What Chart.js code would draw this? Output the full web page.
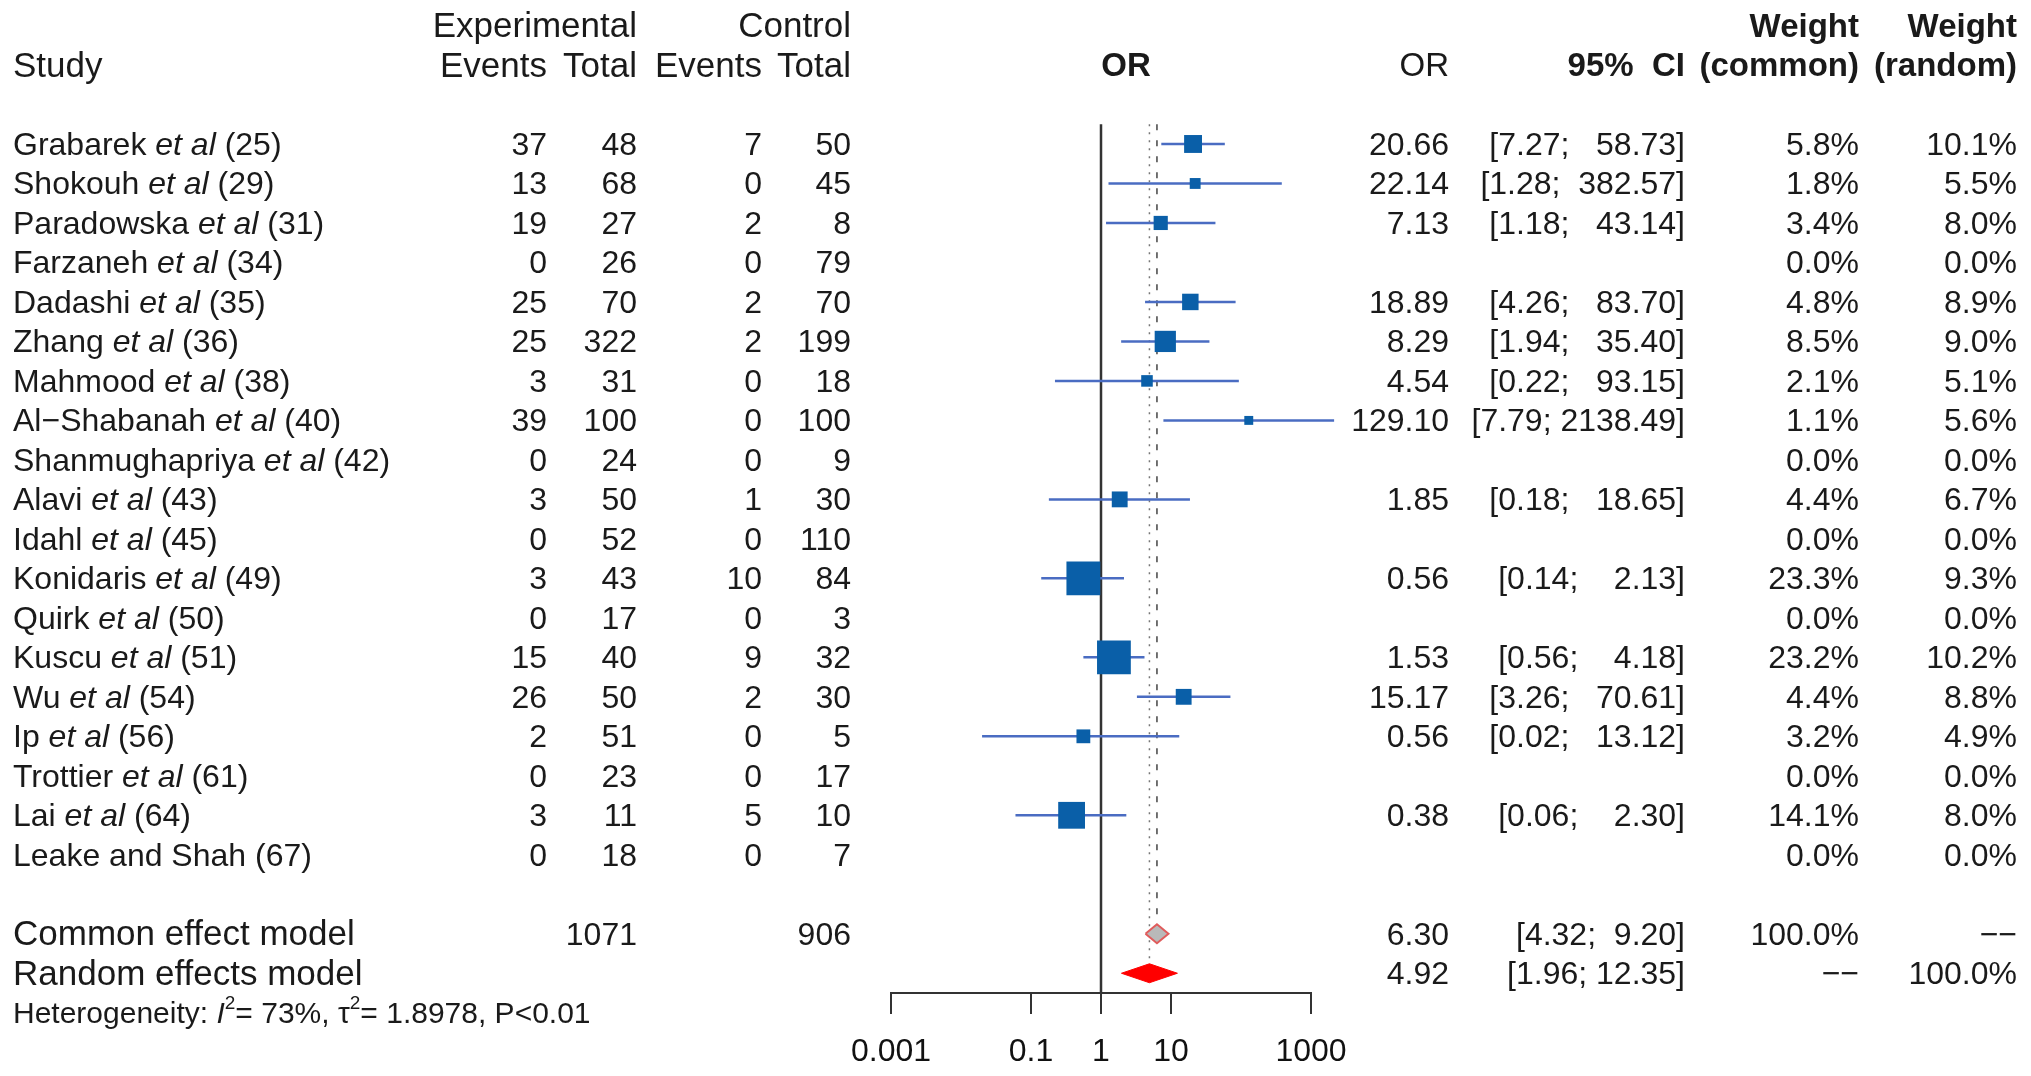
<!DOCTYPE html>
<html>
<head>
<meta charset="utf-8">
<title>Forest plot</title>
<script src="https://cdn.jsdelivr.net/npm/chart.js@4.4.1/dist/chart.umd.min.js"></script>
<style>
    html, body { margin: 0; padding: 0; background: #fff; }
    #wrap { width: 2031px; height: 1076px; position: relative; }
</style>
</head>
<body>
<div id="wrap"><canvas id="forestChart"></canvas></div>
<script>
// studies: "plain|italic|plain"
const studyLabels = [
    'Grabarek |et al| (25)', 'Shokouh |et al| (29)', 'Paradowska |et al| (31)', 'Farzaneh |et al| (34)',
    'Dadashi |et al| (35)', 'Zhang |et al| (36)', 'Mahmood |et al| (38)', 'Al\u2212Shabanah |et al| (40)',
    'Shanmughapriya |et al| (42)', 'Alavi |et al| (43)', 'Idahl |et al| (45)', 'Konidaris |et al| (49)',
    'Quirk |et al| (50)', 'Kuscu |et al| (51)', 'Wu |et al| (54)', 'Ip |et al| (56)',
    'Trottier |et al| (61)', 'Lai |et al| (64)', 'Leake and Shah (67)'
];
const expEvents = [37, 13, 19, 0, 25, 25, 3, 39, 0, 3, 0, 3, 0, 15, 26, 2, 0, 3, 0];
const expTotal = [48, 68, 27, 26, 70, 322, 31, 100, 24, 50, 52, 43, 17, 40, 50, 51, 23, 11, 18];
const ctrlEvents = [7, 0, 2, 0, 2, 2, 0, 0, 0, 1, 0, 10, 0, 9, 2, 0, 0, 5, 0];
const ctrlTotal = [50, 45, 8, 79, 70, 199, 18, 100, 9, 30, 110, 84, 3, 32, 30, 5, 17, 10, 7];
const oddsRatio = [20.66, 22.14, 7.13, null, 18.89, 8.29, 4.54, 129.10, null, 1.85, null, 0.56, null, 1.53, 15.17, 0.56, null, 0.38, null];
const ciLower = [7.27, 1.28, 1.18, null, 4.26, 1.94, 0.22, 7.79, null, 0.18, null, 0.14, null, 0.56, 3.26, 0.02, null, 0.06, null];
const ciUpper = [58.73, 382.57, 43.14, null, 83.70, 35.40, 93.15, 2138.49, null, 18.65, null, 2.13, null, 4.18, 70.61, 13.12, null, 2.30, null];
const weightCommon = [5.8, 1.8, 3.4, 0.0, 4.8, 8.5, 2.1, 1.1, 0.0, 4.4, 0.0, 23.3, 0.0, 23.2, 4.4, 3.2, 0.0, 14.1, 0.0];
const weightRandom = [10.1, 5.5, 8.0, 0.0, 8.9, 9.0, 5.1, 5.6, 0.0, 6.7, 0.0, 9.3, 0.0, 10.2, 8.8, 4.9, 0.0, 8.0, 0.0];

const summaryLabels = ['Common effect model', 'Random effects model'];
const summaryOR = [6.30, 4.92];
const summaryLower = [4.32, 1.96];
const summaryUpper = [9.20, 12.35];
const summaryWeightCommon = ['100.0%', '\u2212\u2212'];
const summaryWeightRandom = ['\u2212\u2212', '100.0%'];
const totalExp = 1071;
const totalCtrl = 906;
const hetI2 = '73%';
const hetTau2 = '1.8978';
const hetP = 'P<0.01';

const orTicks = [0.001, 0.1, 1, 10, 1000];
const orTickLabels = ['0.001', '0.1', '1', '10', '1000'];

// layout
const FONT = '"Liberation Sans", Arial, Helvetica, sans-serif';
const ROW_TOP = -3.646;      // y value at top of chart area
const ROW_AXIS = 21.5;       // y value at the axis line
const TEXT_SHIFT = 2;        // 'middle' baseline sits a bit above cap centre
const nStudies = studyLabels.length;
const rowCommon = nStudies + 1;
const rowRandom = nStudies + 2;
const rowHet = nStudies + 3;
const squareColor = '#0a5fa8';
const ciColor = '#4a6cc2';

function squareSide(w) {
    return 6.6 * Math.sqrt(w) + 2;
}

const datasets = [];

// squares (on top)
datasets.push({
    label: 'OR',
    data: oddsRatio.map((v, i) => v == null ? null : { x: v, y: i }).filter(Boolean),
    showLine: false,
    pointStyle: 'rect',
    pointRadius: ctx => ctx.raw ? squareSide(weightCommon[ctx.raw.y]) / Math.SQRT2 : 0,
    pointBackgroundColor: squareColor,
    pointBorderWidth: 0,
    order: 0
});

// confidence intervals
oddsRatio.forEach((v, i) => {
    if (v == null) return;
    datasets.push({
        label: 'CI ' + i,
        data: [{ x: ciLower[i], y: i }, { x: ciUpper[i], y: i }],
        borderColor: ciColor,
        borderWidth: 2.5,
        pointRadius: 0,
        clip: false,
        order: 1
    });
});

// summary diamonds
function diamond(k, row) {
    const h = 0.24;
    return [
        { x: summaryLower[k], y: row },
        { x: summaryOR[k], y: row - h },
        { x: summaryUpper[k], y: row },
        { x: summaryOR[k], y: row + h },
        { x: summaryLower[k], y: row }
    ];
}
datasets.push({
    label: summaryLabels[0],
    data: diamond(0, rowCommon),
    fill: 'shape',
    backgroundColor: '#b9b9b9',
    borderColor: '#e05c5c',
    borderWidth: 2,
    pointRadius: 0,
    tension: 0,
    order: 1
});
datasets.push({
    label: summaryLabels[1],
    data: diamond(1, rowRandom),
    fill: 'shape',
    backgroundColor: '#ff0000',
    borderColor: '#ff0000',
    borderWidth: 1,
    pointRadius: 0,
    tension: 0,
    order: 1
});

// reference lines
datasets.push({
    label: 'no effect',
    data: [{ x: 1, y: -0.5 }, { x: 1, y: ROW_AXIS }],
    borderColor: '#333',
    borderWidth: 2.5,
    pointRadius: 0,
    order: 3
});
datasets.push({
    label: 'common line',
    data: [{ x: summaryOR[0], y: -0.5 }, { x: summaryOR[0], y: rowCommon - 0.4 }],
    borderColor: '#444',
    borderWidth: 1.5,
    borderDash: [6, 10],
    pointRadius: 0,
    order: 3
});
datasets.push({
    label: 'random line',
    data: [{ x: summaryOR[1], y: -0.5 }, { x: summaryOR[1], y: rowRandom - 0.25 }],
    borderColor: '#777',
    borderWidth: 1.5,
    borderDash: [2, 6],
    pointRadius: 0,
    order: 3
});

// text columns
function drawRich(ctx, parts, x, y, size) {
    let cx = x;
    parts.forEach(p => {
        const fs = p.sup ? Math.round(size * 0.62) : size;
        ctx.font = (p.italic ? 'italic ' : '') + fs + 'px ' + FONT;
        ctx.textAlign = 'left';
        ctx.fillText(p.t, cx, p.sup ? y - size * 0.38 : y);
        cx += ctx.measureText(p.t).width;
    });
}

const tableText = {
    id: 'tableText',
    afterDraw(chart) {
        const ctx = chart.ctx;
        const ys = chart.scales.y;
        const py = r => ys.getPixelForValue(r) + TEXT_SHIFT;
        ctx.save();
        ctx.fillStyle = '#1a1a1a';
        ctx.textBaseline = 'middle';
        function put(str, x, row, align, font) {
            ctx.font = font;
            ctx.textAlign = align;
            ctx.fillText(str, x, py(row));
        }
        const head = '35px ' + FONT;
        const headBold = 'bold 33px ' + FONT;
        const body = '32px ' + FONT;

        // header
        put('Experimental', 637, -3, 'right', head);
        put('Control', 851, -3, 'right', head);
        put('Weight', 1859, -3, 'right', headBold);
        put('Weight', 2017, -3, 'right', headBold);
        put('Study', 13, -2, 'left', head);
        put('Events', 547, -2, 'right', head);
        put('Total', 637, -2, 'right', head);
        put('Events', 762, -2, 'right', head);
        put('Total', 851, -2, 'right', head);
        put('OR', 1126, -2, 'center', headBold);
        put('OR', 1449, -2, 'right', '33px ' + FONT);
        put('95%  CI', 1685, -2, 'right', headBold);
        put('(common)', 1859, -2, 'right', headBold);
        put('(random)', 2017, -2, 'right', headBold);

        // studies
        studyLabels.forEach((lab, i) => {
            const parts = lab.split('|').map((t, k) => ({ t: t, italic: k === 1 }));
            drawRich(ctx, parts, 13, py(i), 32);
            put(String(expEvents[i]), 547, i, 'right', body);
            put(String(expTotal[i]), 637, i, 'right', body);
            put(String(ctrlEvents[i]), 762, i, 'right', body);
            put(String(ctrlTotal[i]), 851, i, 'right', body);
            if (oddsRatio[i] != null) {
                put(oddsRatio[i].toFixed(2), 1449, i, 'right', body);
                put('[' + ciLower[i].toFixed(2) + '; ' + ciUpper[i].toFixed(2).padStart(7) + ']', 1685, i, 'right', body);
            }
            put(weightCommon[i].toFixed(1) + '%', 1859, i, 'right', body);
            put(weightRandom[i].toFixed(1) + '%', 2017, i, 'right', body);
        });

        // summaries
        [rowCommon, rowRandom].forEach((row, k) => {
            put(summaryLabels[k], 13, row, 'left', '35px ' + FONT);
            put(summaryOR[k].toFixed(2), 1449, row, 'right', body);
            put('[' + summaryLower[k].toFixed(2) + '; ' + summaryUpper[k].toFixed(2).padStart(5) + ']', 1685, row, 'right', body);
            put(summaryWeightCommon[k], 1859, row, 'right', body);
            put(summaryWeightRandom[k], 2017, row, 'right', body);
        });
        put(String(totalExp), 637, rowCommon, 'right', body);
        put(String(totalCtrl), 851, rowCommon, 'right', body);

        // heterogeneity
        drawRich(ctx, [
            { t: 'Heterogeneity: ' },
            { t: 'I', italic: true },
            { t: '2', sup: true },
            { t: '= ' + hetI2 + ', \u03c4' },
            { t: '2', sup: true },
            { t: '= ' + hetTau2 + ', ' + hetP }
        ], 13, py(rowHet), 30);
        ctx.restore();
    }
};

new Chart(document.getElementById('forestChart').getContext('2d'), {
    type: 'line',
    data: { datasets: datasets },
    options: {
        responsive: true,
        maintainAspectRatio: false,
        animation: false,
        events: [],
        layout: { autoPadding: false, padding: { left: 891, right: 720, top: 0, bottom: 4.6 } },
        plugins: {
            legend: { display: false },
            tooltip: { enabled: false }
        },
        scales: {
            x: {
                type: 'logarithmic',
                min: orTicks[0],
                max: orTicks[orTicks.length - 1],
                afterBuildTicks: function (scale) {
                    scale.ticks = orTicks.map(v => ({ value: v }));
                },
                afterFit: function (scale) {
                    scale.height = 78.4;
                },
                ticks: {
                    callback: (v, i) => orTickLabels[i],
                    autoSkip: false,
                    maxRotation: 0,
                    color: '#111',
                    padding: 19,
                    font: { family: FONT, size: 32 }
                },
                grid: {
                    drawOnChartArea: false,
                    drawTicks: true,
                    tickLength: 21,
                    color: '#333',
                    lineWidth: 2
                },
                border: { display: true, color: '#333', width: 2 }
            },
            y: {
                type: 'linear',
                reverse: true,
                min: ROW_TOP,
                max: ROW_AXIS,
                display: false
            }
        }
    },
    plugins: [tableText]
});
</script>
</body>
</html>
